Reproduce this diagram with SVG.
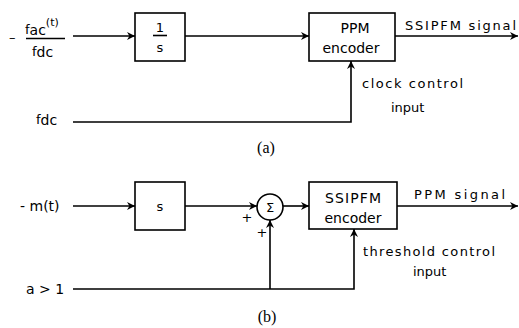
<svg xmlns="http://www.w3.org/2000/svg" width="519" height="328" viewBox="0 0 519 328">
<defs>
<marker id="arr" viewBox="0 0 10 10" refX="10" refY="5" markerWidth="8" markerHeight="8" markerUnits="userSpaceOnUse" orient="auto">
<path d="M0,0 L10,5 L0,10 L3,5 Z" fill="#000"/>
</marker>
</defs>
<style>
.ln{fill:none;stroke:#000;stroke-width:1.6}
.bx{fill:#fff;stroke:#000;stroke-width:1.6}
.t{font-family:"DejaVu Sans","Liberation Sans",sans-serif;font-size:13px;fill:#000}
.b{font-size:14px}
.c{text-anchor:middle}
.cap{font-family:"Liberation Serif","DejaVu Serif",serif;font-size:16px;fill:#000;text-anchor:middle}
</style>
<rect width="519" height="328" fill="#fff"/>
<g id="connectors">
<path class="ln" d="M73,36 H135" marker-end="url(#arr)"/>
<path class="ln" d="M185,36 H309" marker-end="url(#arr)"/>
<path class="ln" d="M395,36 H518" marker-end="url(#arr)"/>
<path class="ln" d="M73,122 H351 V61" marker-end="url(#arr)"/>
<path class="ln" d="M73,206 H135" marker-end="url(#arr)"/>
<path class="ln" d="M185,206 H257" marker-end="url(#arr)"/>
<path class="ln" d="M283,206 H309" marker-end="url(#arr)"/>
<path class="ln" d="M397,206 H518" marker-end="url(#arr)"/>
<path class="ln" d="M73,289 H354 V229" marker-end="url(#arr)"/>
<path class="ln" d="M270,289 V220" marker-end="url(#arr)"/>
</g>
<g id="in-a">
<text class="t" x="9" y="42">–</text>
<text class="t" x="25" y="34" font-size="16">f<tspan font-size="14" dy="1">ac</tspan><tspan font-size="11" dy="-9">(t)</tspan></text>
<path class="ln" d="M26,38.5 H65"/>
<text class="t" x="32" y="56" font-size="16">f<tspan font-size="14" dy="1">dc</tspan></text>
</g>
<g id="fdc">
<text class="t" x="36" y="124" font-size="16">f<tspan font-size="14" dy="1">dc</tspan></text>
</g>
<g id="integrator">
<rect class="bx" x="135" y="13" width="50" height="48"/>
<text class="t c" x="160" y="32" font-size="15">1</text>
<path class="ln" d="M153,35.5 H167" stroke-width="1.2"/>
<text class="t c" x="160" y="52" font-size="16">s</text>
</g>
<g id="ppm-encoder">
<rect class="bx" x="309" y="13" width="86" height="48"/>
<text class="t b c" x="355" y="33">PPM</text>
<text class="t b c" x="351" y="53">encoder</text>
</g>
<g id="labels-a">
<text class="t" x="405" y="30" textLength="111" lengthAdjust="spacing">SSIPFM signal</text>
<text class="t" x="362" y="88" textLength="101" lengthAdjust="spacing">clock control</text>
<text class="t" x="391" y="112">input</text>
<text class="cap" x="266" y="153">(a)</text>
</g>
<g id="in-b">
<text class="t b" x="20" y="211">- m(t)</text>
</g>
<g id="a-in">
<text class="t b" x="26" y="294">a &gt; 1</text>
</g>
<g id="differentiator">
<rect class="bx" x="135" y="182" width="50" height="48"/>
<text class="t c" x="160" y="211" font-size="16">s</text>
</g>
<g id="sum">
<circle class="bx" cx="270" cy="207" r="13"/>
<text class="t c" x="270" y="212" font-size="14">Σ</text>
<text class="t c" x="247" y="222" font-size="10">+</text>
<text class="t c" x="262" y="237" font-size="10">+</text>
</g>
<g id="ssipfm-encoder">
<rect class="bx" x="309" y="182" width="88" height="47"/>
<text class="t b c" x="353" y="203" textLength="56" lengthAdjust="spacing">SSIPFM</text>
<text class="t b c" x="353" y="223">encoder</text>
</g>
<g id="labels-b">
<text class="t" x="414" y="199" textLength="91" lengthAdjust="spacing">PPM signal</text>
<text class="t" x="363" y="256" textLength="132" lengthAdjust="spacing">threshold control</text>
<text class="t" x="413" y="276">input</text>
<text class="cap" x="267" y="322">(b)</text>
</g>
</svg>
